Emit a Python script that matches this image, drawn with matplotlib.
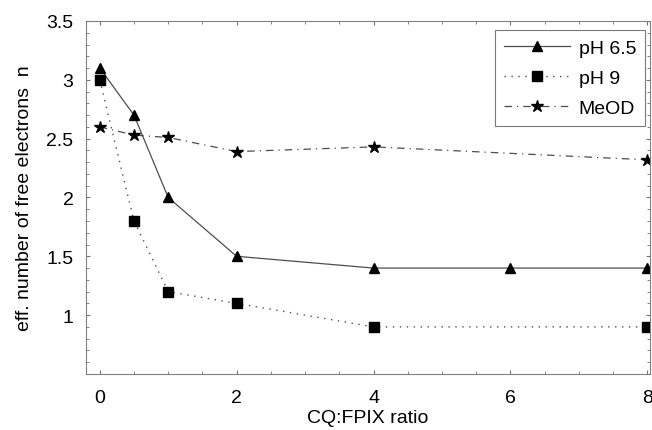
import matplotlib
matplotlib.use("Agg")
import matplotlib.pyplot as plt
from matplotlib.ticker import MultipleLocator

plt.rcParams['font.family'] = ['Liberation Sans', 'DejaVu Sans']

# data
x_ph65 = [0, 0.5, 1, 2, 4, 6, 8]
y_ph65 = [3.1, 2.7, 2.0, 1.5, 1.4, 1.4, 1.4]

x_ph9 = [0, 0.5, 1, 2, 4, 8]
y_ph9 = [3.0, 1.8, 1.2, 1.1, 0.9, 0.9]

x_meod = [0, 0.5, 1, 2, 4, 8]
y_meod = [2.6, 2.53, 2.51, 2.39, 2.43, 2.32]

fs = 14

fig = plt.figure(figsize=(6.52, 4.31), dpi=100)
ax = fig.add_axes([0.132, 0.13, 0.865, 0.819])

line_c = '0.3'
ax.plot(x_ph65, y_ph65, color=line_c, lw=0.9, ls='-', marker='^',
        mfc='k', mec='k', ms=7.5, label='pH 6.5')
ax.plot(x_ph9, y_ph9, color=line_c, lw=1.0, ls=(0, (1, 4)), marker='s',
        mfc='k', mec='k', ms=6.5, label='pH 9')
ax.plot(x_meod, y_meod, color=line_c, lw=0.9, ls=(0, (6, 4, 1, 4)), marker='*',
        mfc='k', mec='k', ms=9, label='MeOD')

ax.set_xlim(-0.2, 8.04)
ax.set_ylim(0.5, 3.5)
ax.xaxis.set_major_locator(MultipleLocator(2))
ax.xaxis.set_minor_locator(MultipleLocator(0.5))
ax.yaxis.set_minor_locator(MultipleLocator(0.1))
ax.set_yticks([1, 1.5, 2, 2.5, 3, 3.5])
ax.set_yticklabels(['1', '1.5', '2', '2.5', '3', '3.5'])

ax.tick_params(which='both', direction='in', top=True, right=True,
               color='0.45', labelsize=fs)
ax.tick_params(axis='x', pad=11)
ax.tick_params(axis='y', pad=9)
ax.tick_params(which='major', length=3)
ax.tick_params(which='minor', length=2)

for sp in ax.spines.values():
    sp.set_color('0.5')
    sp.set_linewidth(0.8)

ax.set_xlabel('CQ:FPIX ratio', fontsize=fs, labelpad=2)
ax.set_ylabel('eff. number of free electrons  n', fontsize=fs, labelpad=10)

leg = ax.legend(loc='upper right', bbox_to_anchor=(0.998, 0.985),
                fontsize=fs, handlelength=3.4, handletextpad=0.45,
                labelspacing=0.65, borderpad=0.45, borderaxespad=0.2,
                frameon=True, fancybox=False)
leg.get_frame().set_edgecolor('0.35')
leg.get_frame().set_linewidth(0.8)

fig.savefig('out.png', dpi=100)
